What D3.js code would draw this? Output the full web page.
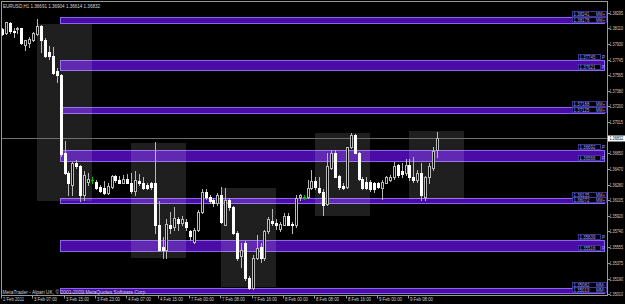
<!DOCTYPE html>
<html>
<head>
<meta charset="utf-8">
<script src="https://cdn.jsdelivr.net/npm/d3@7"></script>
<style>
  body { margin: 0; background: #000; }
  svg { display: block; }
  text { font-family: "Liberation Sans", Arial, sans-serif; }
</style>
</head>
<body>
<div id="chart"></div>
<script>
// 1: DATA (EURUSD H1)
const title = "EURUSD,H1  1.36691  1.36904  1.36614  1.36832";
const lastPrice = 1.36832;

const opens = [
  1.3810, 1.3806, 1.3817, 1.3808, 1.3810, 1.3811, 1.3792, 1.3794, 1.3797, 1.3804,
  1.3814, 1.3798, 1.3783, 1.3779, 1.3761, 1.3757, 1.3665, 1.3642, 1.3628, 1.3654,
  1.3650, 1.3617, 1.3632, 1.3634, 1.3632, 1.3626, 1.3625, 1.3619, 1.3626, 1.3639,
  1.3634, 1.3631, 1.3635, 1.3631, 1.3621, 1.3633, 1.3631, 1.3628, 1.3630, 1.3630,
  1.3582, 1.3556, 1.3552, 1.3582, 1.3579, 1.3589, 1.3584, 1.3585, 1.3574, 1.3562,
  1.3576, 1.3597, 1.3620, 1.3614, 1.3611, 1.3607, 1.3617, 1.3582, 1.3611, 1.3602,
  1.3572, 1.3545, 1.3561, 1.3520, 1.3508, 1.3543, 1.3556, 1.3543, 1.3574, 1.3586,
  1.3584, 1.3577, 1.3582, 1.3592, 1.3583, 1.3582, 1.3614, 1.3614, 1.3614, 1.3625,
  1.3633, 1.3625, 1.3620, 1.3606, 1.3648, 1.3666, 1.3639, 1.3627, 1.3626, 1.3672,
  1.3687, 1.3666, 1.3635, 1.3632, 1.3632, 1.3630, 1.3630, 1.3625, 1.3631, 1.3634,
  1.3637, 1.3651, 1.3644, 1.3642, 1.3652, 1.3638, 1.3634, 1.3642, 1.3614, 1.3637,
  1.3648, 1.36691
];
const highs = [
  1.3811, 1.3819, 1.3818, 1.3811, 1.3813, 1.3812, 1.3798, 1.3801, 1.3807, 1.3822,
  1.3815, 1.3800, 1.3790, 1.3789, 1.3765, 1.3758, 1.3680, 1.3644, 1.3655, 1.3657,
  1.3652, 1.3644, 1.3642, 1.3638, 1.3634, 1.3628, 1.3633, 1.3630, 1.3640, 1.3640,
  1.3639, 1.3640, 1.3641, 1.3642, 1.3644, 1.3641, 1.3638, 1.3631, 1.3632, 1.3678,
  1.3609, 1.3567, 1.3588, 1.3597, 1.3602, 1.3591, 1.3592, 1.3588, 1.3576, 1.3578,
  1.3599, 1.3623, 1.3624, 1.3617, 1.3613, 1.3619, 1.3626, 1.3625, 1.3613, 1.3604,
  1.3575, 1.3561, 1.3563, 1.3522, 1.3547, 1.3570, 1.3560, 1.3576, 1.3591, 1.3600,
  1.3588, 1.3585, 1.3595, 1.3595, 1.3585, 1.3616, 1.3618, 1.3617, 1.3634, 1.3646,
  1.3637, 1.3637, 1.3623, 1.3666, 1.3669, 1.3669, 1.3640, 1.3630, 1.3673, 1.3689,
  1.3688, 1.3667, 1.3638, 1.3637, 1.3634, 1.3632, 1.3632, 1.3634, 1.3639, 1.3640,
  1.3655, 1.3653, 1.3654, 1.3658, 1.3658, 1.3661, 1.3646, 1.3654, 1.3639, 1.3654,
  1.3672, 1.36904
];
const lows = [
  1.3803, 1.3805, 1.3806, 1.3801, 1.3806, 1.3793, 1.3786, 1.3789, 1.3796, 1.3803,
  1.3783, 1.3778, 1.3775, 1.3758, 1.3748, 1.3662, 1.3641, 1.3617, 1.3617, 1.3648,
  1.3609, 1.3611, 1.3628, 1.3631, 1.3624, 1.3620, 1.3618, 1.3618, 1.3625, 1.3632,
  1.3630, 1.3630, 1.3630, 1.3619, 1.3617, 1.3628, 1.3623, 1.3623, 1.3624, 1.3572,
  1.3551, 1.3543, 1.3543, 1.3572, 1.3576, 1.3576, 1.3581, 1.3576, 1.3564, 1.3560,
  1.3574, 1.3596, 1.3612, 1.3607, 1.3604, 1.3605, 1.3584, 1.3581, 1.3599, 1.3571,
  1.3541, 1.3533, 1.3517, 1.3507, 1.3507, 1.3542, 1.3538, 1.3541, 1.3572, 1.3581,
  1.3577, 1.3574, 1.3581, 1.3581, 1.3572, 1.3579, 1.3611, 1.3612, 1.3613, 1.3624,
  1.3624, 1.3619, 1.3593, 1.3605, 1.3647, 1.3637, 1.3624, 1.3623, 1.3625, 1.3671,
  1.3665, 1.3634, 1.3623, 1.3624, 1.3621, 1.3620, 1.3625, 1.3612, 1.3630, 1.3633,
  1.3635, 1.3638, 1.3638, 1.3640, 1.3634, 1.3632, 1.3632, 1.3611, 1.3611, 1.3631,
  1.3646, 1.36614
];
const closes = [
  1.3805, 1.3818, 1.3808, 1.3807, 1.3811, 1.3794, 1.3797, 1.3799, 1.3806, 1.3814,
  1.3798, 1.3779, 1.3779, 1.3759, 1.3757, 1.3664, 1.3642, 1.3630, 1.3654, 1.3650,
  1.3616, 1.3640, 1.3635, 1.3634, 1.3625, 1.3621, 1.3619, 1.3627, 1.3639, 1.3634,
  1.3631, 1.3635, 1.3631, 1.3621, 1.3634, 1.3631, 1.3625, 1.3625, 1.3626, 1.3582,
  1.3552, 1.3552, 1.3583, 1.3578, 1.3590, 1.3584, 1.3589, 1.3579, 1.3569, 1.3576,
  1.3597, 1.3620, 1.3614, 1.3610, 1.3607, 1.3617, 1.3585, 1.3611, 1.3602, 1.3572,
  1.3543, 1.3552, 1.3520, 1.3508, 1.3543, 1.3555, 1.3543, 1.3574, 1.3589, 1.3584,
  1.3581, 1.3583, 1.3592, 1.3582, 1.3581, 1.3613, 1.3616, 1.3614, 1.3625, 1.3633,
  1.3626, 1.3620, 1.3605, 1.3650, 1.3666, 1.3638, 1.3626, 1.3625, 1.3672, 1.3687,
  1.3666, 1.3635, 1.3625, 1.3625, 1.3623, 1.3623, 1.3626, 1.3632, 1.3637, 1.3638,
  1.3650, 1.3640, 1.3641, 1.3652, 1.3637, 1.3634, 1.3642, 1.3617, 1.3637, 1.3650,
  1.3668, 1.36832
];

// time axis: one label every 8 bars
const timeLabels = ["2 Feb 2011", "3 Feb 07:00", "3 Feb 15:00", "3 Feb 23:00", "4 Feb 07:00",
  "4 Feb 15:00", "7 Feb 00:00", "7 Feb 08:00", "7 Feb 16:00", "8 Feb 00:00",
  "8 Feb 08:00", "8 Feb 16:00", "9 Feb 00:00", "9 Feb 08:00"];
const barsPerLabel = 8;

const priceTicks = [1.38295, 1.38110, 1.37930, 1.37745, 1.37565, 1.37380, 1.37200, 1.37015,
  1.36650, 1.36470, 1.36280, 1.36105, 1.35920, 1.35740, 1.35555, 1.35375, 1.35190, 1.35010];

// purple level zones
const bandTops    = [1.38241, 1.37745, 1.37188, 1.36692, 1.36135, 1.35639, 1.35082];
const bandBottoms = [1.38178, 1.37621, 1.37125, 1.36566, 1.36072, 1.35516, 1.35019];
const bandTags    = ["MM+", "P", "MM+", "P", "MM+", "P", "MM-"];
const bandStartBar = 15;

// session boxes (bar index range, high, low)
const sessionStart = [9, 33, 56, 80, 104];
const sessionEnd   = [23, 47, 70, 94, 118];
const sessionHigh  = [1.3816, 1.3677, 1.3625, 1.3689, 1.3691];
const sessionLow   = [1.3610, 1.3543, 1.3509, 1.3592, 1.3612];

const footer = "MetaTrader - Alpari UK, \u00a9 2001-2009 MetaQuotes Software Corp.";

// 2: SETUP
const W = 625, H = 304;
const plot = { left: 1.5, right: 607.5, top: 1.5, bottom: 295.5 };

const svg = d3.select("#chart").append("svg")
  .attr("width", W).attr("height", H)
  .style("background", "#000");

const x = d3.scaleLinear().domain([0, 111]).range([1.8, 436.9]);
const y = d3.scaleLinear().domain([1.34987, 1.38406]).range([296, 3]);
const px = v => Math.round(x(v));
const fmt = d3.format(".5f");

// squeeze a text into a given width (MetaTrader's tiny font is narrow)
function fit(sel, len) {
  return sel.attr("textLength", len).attr("lengthAdjust", "spacingAndGlyphs");
}

// 3: BANDS
const bands = d3.range(bandTops.length).map(i => ({
  top: bandTops[i], bottom: bandBottoms[i], tag: bandTags[i]
}));

svg.append("g").selectAll("rect")
  .data(bands)
  .join("rect")
  .attr("x", px(bandStartBar) - 1)
  .attr("y", d => Math.round(y(d.top)) + 0.5)
  .attr("width", d => plot.right - 2 - px(bandStartBar))
  .attr("height", d => Math.round(y(d.bottom)) - Math.round(y(d.top)))
  .attr("fill", "#4a0ca4")
  .attr("stroke", "#8a66ee")
  .attr("stroke-width", 1)
  .attr("shape-rendering", "crispEdges");

// 4: SESSION BOXES
const sessions = d3.range(sessionStart.length).map(i => ({
  a: sessionStart[i], b: sessionEnd[i], hi: sessionHigh[i], lo: sessionLow[i]
}));

svg.append("g").selectAll("rect")
  .data(sessions)
  .join("rect")
  .attr("x", d => px(d.a))
  .attr("y", d => Math.round(y(d.hi)))
  .attr("width", d => px(d.b) - px(d.a))
  .attr("height", d => Math.round(y(d.lo)) - Math.round(y(d.hi)))
  .attr("fill", "#ffffff")
  .attr("fill-opacity", 0.12)
  .attr("shape-rendering", "crispEdges");

// 5: BID LINE
svg.append("line")
  .attr("x1", plot.left).attr("x2", plot.right)
  .attr("y1", Math.round(y(lastPrice)) + 0.5).attr("y2", Math.round(y(lastPrice)) + 0.5)
  .attr("stroke", "#6e6e6e").attr("stroke-width", 1);

// 6: CANDLES
const candles = opens.map((o, i) => ({ i, o, h: highs[i], l: lows[i], c: closes[i] }));
const cg = svg.append("g").attr("shape-rendering", "crispEdges");

cg.selectAll("line.wick")
  .data(candles)
  .join("line")
  .attr("class", "wick")
  .attr("x1", d => px(d.i) + 0.5).attr("x2", d => px(d.i) + 0.5)
  .attr("y1", d => Math.round(y(d.h))).attr("y2", d => Math.round(y(d.l)) + 1)
  .attr("stroke", d => d.o === d.c ? "#00c000" : "#b8b8b8");

cg.selectAll("rect.body")
  .data(candles.filter(d => d.o !== d.c))
  .join("rect")
  .attr("class", "body")
  .each(function (d) {
    const top = Math.round(y(Math.max(d.o, d.c)));
    const bot = Math.round(y(Math.min(d.o, d.c)));
    const s = d3.select(this);
    if (d.c < d.o) {
      // bearish: solid white
      s.attr("x", px(d.i) - 1).attr("y", top)
        .attr("width", 3).attr("height", Math.max(1, bot - top + 1))
        .attr("fill", "#ffffff");
    } else {
      // bullish: hollow
      s.attr("x", px(d.i) - 0.5).attr("y", top + 0.5)
        .attr("width", 2).attr("height", Math.max(0, bot - top))
        .attr("fill", "#000").attr("stroke", "#b8b8b8");
    }
  });

cg.selectAll("line.doji")
  .data(candles.filter(d => d.o === d.c))
  .join("line")
  .attr("class", "doji")
  .attr("x1", d => px(d.i) - 1).attr("x2", d => px(d.i) + 2)
  .attr("y1", d => Math.round(y(d.o)) + 0.5).attr("y2", d => Math.round(y(d.o)) + 0.5)
  .attr("stroke", "#00c000");

// 7: BAND LABELS
const labelColor = "#a7a0ff";
const lg = svg.append("g").style("font-size", "5px").attr("fill", labelColor);
bands.forEach(d => {
  const mm = d.tag !== "P";
  const x0 = mm ? 572 : 578;
  const x1 = mm ? 606 : 600;
  [[d.top, Math.round(y(d.top))], [d.bottom, Math.round(y(d.bottom))]].forEach(([v, yy]) => {
    lg.append("rect")
      .attr("x", x0 + 0.5).attr("y", yy - 5.5)
      .attr("width", x1 - x0).attr("height", 5)
      .attr("fill", "#000").attr("stroke", "#4b3fb0").attr("stroke-width", 0.8);
    fit(lg.append("text").attr("x", x0 + 1.5).attr("y", yy - 1.3).text(fmt(v)), 16);
    fit(lg.append("text").attr("x", mm ? 596 : 602).attr("y", yy - 1.3).text(d.tag), mm ? 9 : 3);
  });
});

// 8: FRAME AND AXES
svg.append("rect")
  .attr("x", plot.left).attr("y", plot.top)
  .attr("width", plot.right - plot.left).attr("height", plot.bottom - plot.top)
  .attr("fill", "none").attr("stroke", "#9a9a9a").attr("stroke-width", 1);

const ag = svg.append("g").attr("fill", "#d0d0d0").style("font-size", "4.6px");
priceTicks.forEach(p => {
  const yy = Math.round(y(p)) + 0.5;
  ag.append("line").attr("x1", plot.right).attr("x2", plot.right + 2.5)
    .attr("y1", yy).attr("y2", yy).attr("stroke", "#9a9a9a");
  fit(ag.append("text").attr("x", 609.5).attr("y", yy + 1.7).text(fmt(p)), 13.5);
});

// current price tag
const ly = Math.round(y(lastPrice));
svg.append("rect").attr("x", 608).attr("y", ly - 2.5).attr("width", 17).attr("height", 6)
  .attr("fill", "#ffffff");
fit(svg.append("text").attr("x", 609.5).attr("y", ly + 2.2).style("font-size", "4.6px")
  .attr("fill", "#000").text(fmt(lastPrice)), 13.5);

const tg = svg.append("g").attr("fill", "#d0d0d0").style("font-size", "5.5px");
timeLabels.forEach((t, k) => {
  const xx = px(k * barsPerLabel) - 0.5;
  tg.append("line").attr("x1", xx).attr("x2", xx)
    .attr("y1", plot.bottom).attr("y2", plot.bottom + 3).attr("stroke", "#9a9a9a");
  fit(tg.append("text").attr("x", xx + 1.5).attr("y", 301).text(t), t.length === 10 ? 21 : 23);
});

// title and footer
fit(svg.append("text").attr("x", 3).attr("y", 7.5).attr("fill", "#d8d8d8")
  .style("font-size", "5.5px").text(title), 97);
fit(svg.append("text").attr("x", 2.5).attr("y", 294).attr("fill", "#d0d0d0")
  .style("font-size", "5px").text(footer), 144);
</script>
</body>
</html>
